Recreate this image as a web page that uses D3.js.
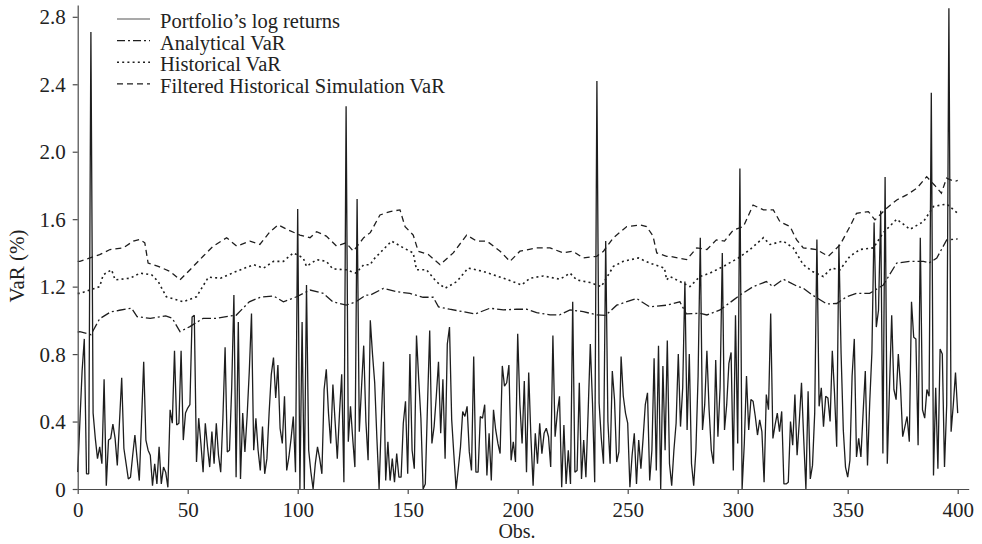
<!DOCTYPE html>
<html><head><meta charset="utf-8">
<script src="https://cdn.jsdelivr.net/npm/d3@7"></script>
<style>
body{margin:0;background:#fff}
svg text{font-family:"Liberation Serif","Times New Roman",serif;fill:#222}
</style>
</head><body>
<svg id="c" width="982" height="544"></svg>
<script>
// Portfolio's log returns (obs 0..400)
const returns = [
0.10,0.40,0.70,0.89,0.09,0.09,2.71,0.45,0.30,0.18,
0.25,0.15,0.65,0.02,0.29,0.30,0.385,0.30,0.14,0.40,
0.66,0.24,0.15,0.06,0.07,0.20,0.32,0.18,0.05,0.40,
0.755,0.29,0.23,0.20,0.02,0.15,0.03,0.25,0.03,0.13,
0.10,0.01,0.47,0.39,0.82,0.38,0.39,0.82,0.29,0.45,
0.48,0.50,1.02,1.03,0.16,0.42,0.27,0.10,0.39,0.25,
0.13,0.34,0.15,0.39,0.20,0.10,0.42,0.84,0.22,0.23,
0.60,1.15,0.07,0.99,0.06,0.45,0.22,0.43,0.70,1.04,
0.23,0.42,0.23,0.11,0.37,0.09,0.18,0.45,0.68,0.78,
0.54,0.735,0.36,0.27,0.55,0.11,0.19,0.30,0.43,0.10,
1.66,0.0,0.99,0.0,1.21,0.23,0.10,0.0,0.15,0.25,
0.18,0.09,0.59,0.71,0.45,0.27,0.62,0.40,0.18,0.45,
0.68,0.04,2.27,0.28,0.49,0.30,0.13,1.72,0.34,0.60,
0.85,0.40,0.17,1.00,0.80,0.63,0.30,0.0,0.40,0.755,
0.05,0.28,0.05,0.18,0.04,0.21,0.07,0.07,0.39,0.52,
0.09,0.80,0.23,0.12,0.91,0.65,0.42,0.0,0.03,0.50,
0.94,0.27,0.37,0.55,0.755,0.33,0.65,0.18,0.86,0.96,
0.41,0.20,0.0,0.12,0.25,0.46,0.43,0.49,0.22,0.11,
0.785,0.10,0.10,0.43,0.42,0.50,0.08,0.33,0.05,0.47,
0.35,0.27,0.21,0.73,0.61,0.63,0.735,0.17,0.28,0.16,
0.92,0.50,0.27,0.64,0.10,0.69,0.31,0.02,0.33,0.15,
0.39,0.21,0.33,0.36,0.31,0.13,0.91,0.31,0.45,0.55,
0.01,0.38,0.03,0.23,0.03,1.11,0.10,0.11,0.63,0.06,
0.29,0.07,0.45,0.86,0.51,0.04,2.42,0.51,0.30,0.15,
1.47,0.40,0.15,0.70,0.53,0.16,0.22,0.785,0.55,0.45,
0.39,0.01,0.20,0.33,0.03,0.29,0.12,0.30,0.50,0.57,
0.05,0.23,0.775,0.11,0.85,0.0,0.73,0.23,0.88,0.15,
0.02,0.23,0.39,0.80,0.37,0.60,1.23,0.35,0.80,0.15,
0.02,0.23,0.67,1.49,0.35,0.50,0.82,0.47,0.23,0.15,
0.765,0.31,0.60,1.40,0.35,0.50,0.745,0.81,0.11,1.03,
0.27,1.90,0.0,0.27,0.67,0.35,0.53,0.52,0.43,0.32,
0.41,0.34,0.04,0.56,0.47,1.04,0.30,0.38,0.45,0.34,
0.46,0.03,0.03,0.04,0.40,0.26,0.56,0.20,0.40,0.63,
0.30,0.0,0.58,0.06,0.14,0.45,1.48,0.49,0.60,0.37,
0.55,0.54,0.40,0.82,0.57,0.25,1.45,0.80,0.35,0.13,
0.07,0.17,0.67,0.89,0.19,0.30,0.19,0.45,0.70,0.14,
0.51,0.81,1.58,0.96,1.06,1.65,0.21,1.85,0.15,0.60,
1.03,0.59,0.53,0.80,0.61,0.31,0.37,0.43,0.28,1.11,
0.90,0.89,0.26,1.49,0.47,0.42,0.59,0.55,2.35,0.08,
0.60,0.12,0.83,0.80,0.13,0.50,2.85,0.34,0.50,0.69,
0.45
];

// VaR series as [obs, value] readings
const analyticalVaR = [[0,0.93],[1,0.933],[6,0.915],[10,1.01],[15,1.05],[19,1.06],[24.5,1.072],[27,1.022],[33,1.012],[40,1.026],[43,1.012],[46.5,0.933],[51,0.963],[57,1.012],[63,1.012],[69,1.026],[72,1.03],[78,1.11],[83,1.137],[89,1.145],[93.5,1.11],[99.5,1.14],[105.6,1.18],[111.6,1.16],[116,1.11],[122,1.09],[126.4,1.11],[131,1.15],[133,1.15],[139,1.19],[145,1.17],[151,1.16],[157,1.137],[161.6,1.137],[164,1.08],[169,1.066],[175,1.052],[180.6,1.038],[187.4,1.072],[193.5,1.062],[199.5,1.066],[204,1.066],[208.6,1.046],[214.7,1.032],[219,1.032],[223.8,1.062],[229.8,1.052],[235.9,1.032],[240,1.03],[245,1.09],[254,1.13],[260,1.08],[267.7,1.09],[273.7,1.11],[276.7,1.038],[282.8,1.042],[286,1.032],[292,1.062],[298,1.12],[301,1.15],[307,1.20],[313,1.23],[316,1.20],[320.7,1.244],[326.8,1.204],[329.8,1.19],[334,1.15],[340.5,1.097],[345,1.10],[349.5,1.14],[354,1.16],[360,1.16],[366.2,1.21],[372.3,1.34],[378.3,1.35],[384.4,1.35],[387,1.34],[390.5,1.37],[395,1.477],[400,1.483]];

const historicalVaR = [[0,1.16],[1,1.16],[10,1.20],[11.6,1.27],[15.4,1.30],[17,1.24],[23.8,1.25],[28.3,1.28],[33.6,1.27],[36.6,1.23],[40.3,1.14],[48,1.11],[54,1.14],[59.4,1.256],[65,1.25],[72,1.29],[80,1.33],[84.5,1.31],[89,1.35],[93.5,1.35],[98,1.40],[102.5,1.37],[104,1.32],[108.6,1.36],[113,1.35],[116,1.305],[122,1.30],[126.5,1.28],[130,1.33],[133,1.33],[134.4,1.36],[137.4,1.40],[142.7,1.47],[148,1.43],[152.5,1.40],[154,1.30],[158.5,1.30],[163,1.23],[167,1.19],[172.3,1.23],[177.5,1.31],[184.4,1.29],[193.5,1.25],[201.8,1.21],[205.6,1.25],[211.7,1.263],[219.2,1.244],[223.8,1.28],[226.8,1.24],[232.9,1.224],[238,1.20],[243.5,1.32],[248,1.35],[254.8,1.37],[260,1.34],[266.7,1.31],[267.7,1.24],[269.2,1.26],[278.3,1.20],[282.8,1.26],[287.4,1.28],[293.5,1.32],[300.3,1.37],[305.6,1.42],[311.7,1.49],[314.7,1.45],[320.7,1.47],[325.2,1.43],[329.8,1.33],[334,1.29],[338.9,1.26],[342.7,1.31],[346.5,1.30],[351,1.38],[355.6,1.42],[361.7,1.43],[366.2,1.52],[372.3,1.60],[378.3,1.54],[384.4,1.585],[389,1.675],[395,1.69],[400,1.635]];

const filteredHSVaR = [[0,1.35],[1,1.35],[5.6,1.37],[10,1.39],[14.7,1.42],[20.7,1.43],[25.3,1.47],[28.3,1.48],[30.5,1.46],[32,1.34],[36.6,1.32],[42,1.29],[46.5,1.24],[51.8,1.31],[57,1.38],[61.6,1.44],[67.7,1.49],[72.3,1.44],[78.3,1.47],[82.8,1.45],[87.4,1.526],[91.2,1.566],[95.7,1.536],[101,1.506],[105.6,1.49],[108.6,1.526],[113,1.50],[117.7,1.44],[122,1.46],[125.3,1.41],[130,1.49],[133,1.52],[137.4,1.625],[142,1.645],[146.5,1.655],[148.8,1.556],[152.5,1.506],[154.8,1.41],[159.4,1.39],[164.7,1.33],[170.7,1.40],[176.8,1.506],[181.4,1.47],[186,1.47],[192,1.41],[196.5,1.35],[201,1.41],[208.6,1.43],[214.7,1.43],[220.7,1.40],[225,1.41],[229.8,1.37],[235.9,1.38],[239,1.41],[243.5,1.49],[249.6,1.556],[255.6,1.566],[258.6,1.556],[261.5,1.50],[263.2,1.40],[267.7,1.38],[269.2,1.38],[276.8,1.36],[281.4,1.43],[286,1.42],[290.3,1.477],[294,1.47],[298,1.536],[302.6,1.556],[307,1.684],[311.7,1.655],[316.2,1.655],[319.2,1.585],[323.8,1.556],[326.8,1.477],[329.8,1.43],[335.8,1.42],[341.2,1.38],[346.5,1.447],[351,1.556],[354,1.635],[359.4,1.645],[362.4,1.596],[367.7,1.665],[372.3,1.714],[376.8,1.744],[381.4,1.783],[385.9,1.852],[389.6,1.80],[392.6,1.754],[394.9,1.843],[398.7,1.823],[400,1.83]];

const xTicks = [0,50,100,150,200,250,300,350,400];
const yTicks = [0,0.4,0.8,1.2,1.6,2.0,2.4,2.8];
const yTickLabels = ["0","0.4","0.8","1.2","1.6","2.0","2.4","2.8"];
const legendLabels = ["Portfolio\u2019s log returns","Analytical VaR","Historical VaR","Filtered Historical Simulation VaR"];
const xTitle = "Obs.";
const yTitle = "VaR (%)";

const svg = d3.select("#c");
const x = d3.scaleLinear().domain([0,405]).range([77.7,968.7]);
const y = d3.scaleLinear().domain([0,2.87]).range([489,5]);
const FS = 21;
const LFS = 20.5;
const axisColor = "#4a4a4a";

const styles = [
  {dash:null, color:"#1e1e1e", w:1.3},
  {dash:"9,3,2,3", color:"#1e1e1e", w:1.3},
  {dash:"2,3.2", color:"#1e1e1e", w:1.6},
  {dash:"6,4", color:"#1e1e1e", w:1.3}
];

// VaR lines
const lineXY = d3.line().x(d=>x(d[0])).y(d=>y(d[1]));
[analyticalVaR, historicalVaR, filteredHSVaR].forEach((s,i)=>{
  const st = styles[i+1];
  svg.append("path").attr("d", lineXY(s)).attr("fill","none")
    .attr("stroke", st.color).attr("stroke-width", st.w)
    .attr("stroke-dasharray", st.dash);
});

// returns
const lineR = d3.line().x((d,i)=>x(i)).y(d=>y(d));
svg.append("path").attr("d", lineR(returns)).attr("fill","none")
  .attr("stroke", styles[0].color).attr("stroke-width", styles[0].w)
  .attr("stroke-linejoin","bevel");

// axes
const gx = svg.append("g").attr("transform","translate(0,489)")
  .call(d3.axisBottom(x).tickValues(xTicks).tickSize(5).tickSizeOuter(0).tickPadding(9));
const gy = svg.append("g").attr("transform","translate(77.7,0)")
  .call(d3.axisLeft(y).tickValues(yTicks).tickFormat((d,i)=>yTickLabels[i]).tickSize(5).tickSizeOuter(0).tickPadding(7));
[gx,gy].forEach(g=>{
  g.attr("font-family",null).attr("font-size",null);
  g.selectAll("path,line").attr("stroke",axisColor).attr("stroke-width",1.2);
  g.selectAll("text").style("font-size",FS+"px").attr("fill","#222");
});
gx.selectAll("text").attr("dy","0.66em");
gy.selectAll("text").attr("dy","0.34em");

// titles
svg.append("text").attr("x",517).attr("y",538).attr("text-anchor","middle")
  .style("font-size","20px").text(xTitle);
svg.append("text").attr("transform","translate(24,266) rotate(-90)").attr("text-anchor","middle")
  .style("font-size",FS+"px").text(yTitle);

// legend
const lg = svg.append("g");
legendLabels.forEach((t,i)=>{
  const yy = 19 + i*21.6;
  const st = styles[i];
  lg.append("line").attr("x1",117).attr("x2",150).attr("y1",yy).attr("y2",yy)
    .attr("stroke", i===0 ? "#555" : st.color).attr("stroke-width", i===0?1.1:st.w)
    .attr("stroke-dasharray", i===1 ? "8,3,2,3" : st.dash);
  lg.append("text").attr("x",160).attr("y",yy+9.2).style("font-size",LFS+"px").text(t);
});
</script>
</body></html>
